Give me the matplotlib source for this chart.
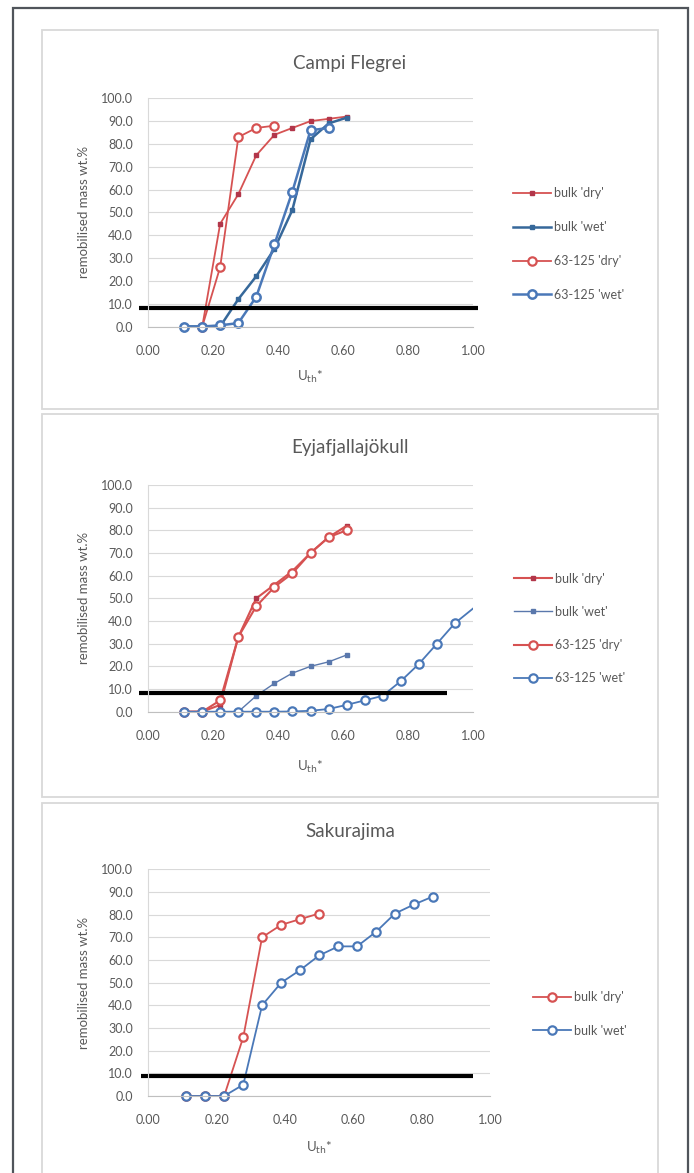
import matplotlib
matplotlib.use("Agg")
from matplotlib import pyplot as plt
from matplotlib.patches import Rectangle
import numpy as np

plt.rcParams['font.family'] = ['Lato', 'DejaVu Sans']

W, H = 694, 1173

# wind speed steps (U_th*)
u = [0.111, 0.167, 0.222, 0.278, 0.333, 0.389, 0.444, 0.500, 0.556, 0.611,
     0.667, 0.722, 0.778, 0.833, 0.889, 0.944, 1.056]

# Campi Flegrei
cf_bulk_dry_x = u[1:10]
cf_bulk_dry = [0, 45, 58, 75, 84, 87, 90, 91, 92]
cf_bulk_wet_x = u[0:10]
cf_bulk_wet = [0, 0, 0, 12, 22, 34, 51, 82, 89, 91.5]
cf_fine_dry_x = u[1:6]
cf_fine_dry = [0, 26, 83, 87, 88]
cf_fine_wet_x = u[0:9]
cf_fine_wet = [0, 0, 0.5, 1.5, 13, 36, 59, 86, 87]

# Eyjafjallajokull
ey_bulk_dry_x = u[0:10]
ey_bulk_dry = [0, 0, 3, 33, 50, 56, 62, 70, 77, 82]
ey_bulk_wet_x = u[0:10]
ey_bulk_wet = [0, 0, 0, 0, 7, 12.5, 17, 20, 22, 25]
ey_fine_dry_x = u[0:10]
ey_fine_dry = [0, 0, 5, 33, 46.5, 55, 61, 70, 77, 80]
ey_fine_wet_x = u[0:17]
ey_fine_wet = [0, 0, 0, 0, 0, 0, 0.1, 0.4, 1.2, 3, 5, 7, 13.5, 21, 30, 39, 52]

# Sakurajima
sk_bulk_dry_x = u[0:8]
sk_bulk_dry = [0, 0, 0, 26, 70, 75.5, 78, 80.5]
sk_bulk_wet_x = u[0:14]
sk_bulk_wet = [0, 0, 0, 5, 40, 50, 55.5, 62, 66, 66, 72.5, 80.5, 84.5, 88]

# black threshold bars
cf_thr_x, cf_thr_y = [-0.028, 1.015], [8.1, 8.1]
ey_thr_x, ey_thr_y = [-0.028, 0.919], [8.4, 8.4]
sk_thr_x, sk_thr_y = [-0.02, 0.951], [8.8, 8.8]

RED = '#d65252'
DRED = '#b2364a'
BLUE = '#4a78b8'
DBLUE = '#36689a'
SLATE = '#5a78ac'
GRID = '#d9d9d9'
TXT = '#595959'

fig = plt.figure(figsize=(W / 100, H / 100), dpi=100)


def px_axes(l, t, r, b):
    return fig.add_axes([l / W, 1 - b / H, (r - l) / W, (b - t) / H])


def frame(l, t, r, b, ec, lw):
    fig.add_artist(Rectangle((l / W, 1 - b / H), (r - l) / W, (b - t) / H,
                             transform=fig.transFigure, fill=False, ec=ec, lw=lw))


def style_axes(ax, title, title_y, xlabel_y):
    ax.set_xlim(0, 1.0)
    ax.set_ylim(0, 100)
    ax.set_xticks(np.arange(0, 1.01, 0.2))
    ax.set_yticks(np.arange(0, 101, 10))
    ax.set_xticklabels(['%.2f' % t for t in np.arange(0, 1.01, 0.2)])
    ax.set_yticklabels(['%.1f' % t for t in np.arange(0, 101, 10)])
    ax.grid(axis='y', color=GRID, lw=0.8)
    ax.set_axisbelow(True)
    for s in ['top', 'right']:
        ax.spines[s].set_visible(False)
    ax.spines['left'].set_color(GRID)
    ax.spines['bottom'].set_color('#bfbfbf')
    ax.tick_params(length=0, labelsize=9, colors=TXT)
    ax.tick_params(axis='y', pad=11)
    ax.tick_params(axis='x', pad=13)
    ax.set_ylabel('remobilised mass wt.%', fontsize=9.5, color=TXT, labelpad=8)
    bb = ax.get_position()
    fig.text(350 / W, 1 - title_y / H, title, ha='center', va='center',
             fontsize=13.5, color=TXT)
    fig.text((bb.x0 + bb.x1) / 2, 1 - xlabel_y / H, r'U$_{\mathrm{th}}$*',
             ha='center', va='center', fontsize=9.5, color=TXT)


def keep_clip(ax, line):
    clip = Rectangle((0, -0.1), 1, 1.3, transform=ax.transAxes)
    line.set_clip_path(clip)


# outer border and chart frames
frame(13, 7.5, 688, 1185, '#50555b', 1.6)
frame(42, 30, 658, 409, GRID, 1.3)
frame(42, 414, 658, 797, GRID, 1.3)
frame(42, 803, 658, 1190, GRID, 1.3)

leg_kw = dict(bbox_transform=fig.transFigure, frameon=False, fontsize=9,
              labelcolor=TXT, handlelength=3.0, handletextpad=0.3,
              borderpad=0, borderaxespad=0, loc='center left')

# ---- Campi Flegrei
ax1 = px_axes(148, 98.3, 473, 326.5)
style_axes(ax1, 'Campi Flegrei', 63, 377)
ax1.plot(cf_bulk_dry_x, cf_bulk_dry, '-s', color=RED, mfc=DRED, mec=DRED,
         ms=3, lw=1.3, label="bulk 'dry'", clip_on=False)
ax1.plot(cf_bulk_wet_x, cf_bulk_wet, '-s', color=DBLUE, mfc=DBLUE, mec=DBLUE,
         ms=3, lw=1.8, label="bulk 'wet'", clip_on=False)
ax1.plot(cf_fine_dry_x, cf_fine_dry, '-o', color=RED, mfc='white', mec=RED,
         ms=6, mew=1.6, lw=1.3, label="63-125 'dry'", clip_on=False)
ax1.plot(cf_fine_wet_x, cf_fine_wet, '-o', color=BLUE, mfc='white', mec=BLUE,
         ms=6, mew=1.8, lw=1.8, label="63-125 'wet'", clip_on=False)
ax1.plot(cf_thr_x, cf_thr_y, color='black', lw=3, clip_on=False,
         solid_capstyle='butt')
ax1.legend(bbox_to_anchor=(513 / W, 1 - 244 / H), labelspacing=1.75, **leg_kw)

# ---- Eyjafjallajokull
ax2 = px_axes(148, 485, 473, 711.7)
style_axes(ax2, 'Eyjafjallajökull', 447, 767)
l = ax2.plot(ey_bulk_dry_x, ey_bulk_dry, '-s', color=RED, mfc=DRED, mec=DRED,
             ms=3.5, lw=1.5, label="bulk 'dry'")[0]
keep_clip(ax2, l)
l = ax2.plot(ey_bulk_wet_x, ey_bulk_wet, '-s', color=SLATE, mfc=SLATE, mec=SLATE,
             ms=2.2, lw=1.0, label="bulk 'wet'")[0]
keep_clip(ax2, l)
l = ax2.plot(ey_fine_dry_x, ey_fine_dry, '-o', color=RED, mfc='white', mec=RED,
             ms=6, mew=1.6, lw=1.5, label="63-125 'dry'")[0]
keep_clip(ax2, l)
l = ax2.plot(ey_fine_wet_x, ey_fine_wet, '-o', color=BLUE, mfc='white', mec=BLUE,
             ms=6, mew=1.6, lw=1.3, label="63-125 'wet'")[0]
keep_clip(ax2, l)
ax2.plot(ey_thr_x, ey_thr_y, color='black', lw=3, clip_on=False,
         solid_capstyle='butt')
ax2.legend(bbox_to_anchor=(514 / W, 1 - 628.5 / H), labelspacing=1.7, **leg_kw)

# ---- Sakurajima
ax3 = px_axes(148.3, 869.3, 490, 1096)
style_axes(ax3, 'Sakurajima', 832, 1148)
ax3.plot(sk_bulk_dry_x, sk_bulk_dry, '-o', color=RED, mfc='white', mec=RED,
         ms=6, mew=1.6, lw=1.3, label="bulk 'dry'", clip_on=False)
ax3.plot(sk_bulk_wet_x, sk_bulk_wet, '-o', color=BLUE, mfc='white', mec=BLUE,
         ms=6, mew=1.6, lw=1.3, label="bulk 'wet'", clip_on=False)
ax3.plot(sk_thr_x, sk_thr_y, color='black', lw=3, clip_on=False,
         solid_capstyle='butt')
ax3.legend(bbox_to_anchor=(533 / W, 1 - 1014 / H), labelspacing=1.7, **leg_kw)

fig.savefig('out.png', dpi=100)
